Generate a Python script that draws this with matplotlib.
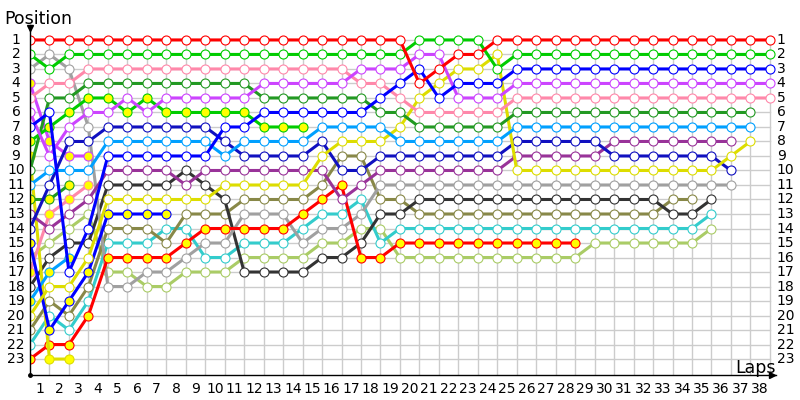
import matplotlib
matplotlib.use('Agg')
import matplotlib.pyplot as plt

# lap chart: position of each car per lap (index = lap, lap 0 = grid)
laps_total = 38
red = [1,1,1,1,1,1,1,1,1,1,1,1,1,1,1,1,1,1,1,1,4,3,2,2,1,1,1,1,1,1,1,1,1,1,1,1,1,1,1]
lime = [2,3,2,2,2,2,2,2,2,2,2,2,2,2,2,2,2,2,2,2,1,1,1,1,3,2,2,2,2,2,2,2,2,2,2,2,2,2,2]
blue = [7,6,17,14,9,9,9,9,9,9,7,7,6,6,6,6,6,6,5,4,3,5,4,4,4,3,3,3,3,3,3,3,3,3,3,3,3,3,3]
magenta = [6,9,7,6,6,5,6,5,5,5,5,5,4,4,4,4,4,3,3,3,2,2,5,5,5,4,4,4,4,4,4,4,4,4,4,4,4,4,4]
pink = [5,4,4,3,3,3,3,3,3,3,3,3,3,3,3,3,3,4,4,5,6,6,6,6,6,5,5,5,5,5,5,5,5,5,5,5,5,5,5]
darkgreen = [10,5,5,4,4,4,4,4,4,4,4,4,5,5,5,5,5,5,6,6,7,7,7,7,7,6,6,6,6,6,6,6,6,6,6,6,6,6]
skyblue = [11,10,10,10,8,8,8,8,8,8,9,8,8,8,8,7,7,7,7,8,8,8,8,8,8,7,7,7,7,7,7,7,7,7,7,7,7,7]
yellow = [20,18,18,16,12,12,12,12,12,12,11,11,11,11,11,9,8,8,8,7,5,4,3,3,2,10,10,10,10,10,10,10,10,10,10,10,9,8]
purple = [13,14,13,12,10,10,10,10,11,10,10,10,10,10,10,10,12,11,10,10,10,10,10,10,10,9,9,9,9,9,8,8,8,8,8,8,8]
darkblue = [14,11,8,8,7,7,7,7,7,7,8,9,9,9,9,8,10,10,9,9,9,9,9,9,9,8,8,8,8,8,9,9,9,9,9,9,10]
gray = [3,2,3,7,18,18,17,17,16,15,15,13,13,13,15,14,14,13,11,11,11,11,11,11,11,11,11,11,11,11,11,11,11,11,11,11,11]
darkgray = [18,16,15,15,11,11,11,11,10,11,12,17,17,17,17,16,16,15,13,13,12,12,12,12,12,12,12,12,12,12,12,12,12,13,13,12]
olive = [21,19,20,18,14,14,14,15,13,13,13,12,12,12,12,11,9,9,12,12,13,13,13,13,13,13,13,13,13,13,13,13,13,12,12]
teal = [22,20,21,19,15,15,15,14,14,16,16,15,15,15,14,13,13,12,15,14,14,14,14,14,14,14,14,14,14,14,14,14,14,14,14,13]
lightgreen = [16,15,14,13,17,17,18,18,17,17,17,16,16,16,16,15,15,14,14,16,16,16,16,16,16,16,16,16,16,15,15,15,15,15,15,14]
# second cars of the teams (yellow filled markers)
red2 = [23,22,22,20,16,16,16,16,15,14,14,14,14,14,13,12,11,16,16,15,15,15,15,15,15,15,15,15,15]
lime2 = [8,7,6,5,5,6,5,6,6,6,6,6,7,7,7]
blue2 = [15,21,19,17,13,13,13,13]
magenta2 = [4,8,9,9]
pink2 = [17,13,12,11]
darkgreen2 = [12,12,11]
skyblue2 = [19,17,16]
yellow2 = [9,23,23]

cars = [
    (lightgreen, '#aacc66', 'white'),
    (teal, '#33cccc', 'white'),
    (olive, '#888848', 'white'),
    (darkgray, '#333333', 'white'),
    (gray, '#a0a0a0', 'white'),
    (red2, '#ff0000', '#ffff00'),
    (yellow2, '#dddd00', '#ffff00'),
    (skyblue2, '#00a0ff', '#ffff00'),
    (darkgreen2, '#229922', '#ffff00'),
    (pink2, '#ff88aa', '#ffff00'),
    (magenta2, '#cc44ff', '#ffff00'),
    (blue2, '#0000ff', '#ffff00'),
    (purple, '#993399', 'white'),
    (darkblue, '#1010c0', 'white'),
    (yellow, '#dddd00', 'white'),
    (skyblue, '#00a0ff', 'white'),
    (darkgreen, '#229922', 'white'),
    (lime2, '#00cc00', '#ffff00'),
    (pink, '#ff88aa', 'white'),
    (magenta, '#cc44ff', 'white'),
    (blue, '#0000ff', 'white'),
    (lime, '#00cc00', 'white'),
    (red, '#ff0000', 'white'),
]

fig = plt.figure(figsize=(8, 4), dpi=100)
ax = fig.add_axes([30/800, 25/400, 745.7/800, 350/400])
ax.set_xlim(0, 38.3)
ax.set_ylim(24.1, -0.03)

# grid
for p in range(1, 24):
    ax.plot([0, laps_total], [p, p], color='#cccccc', lw=1, zorder=0)
for l in range(1, laps_total + 1):
    ax.plot([l, l], [0.8, 24.1], color='#cccccc', lw=1, zorder=0)

for pos, col, fill in cars:
    ax.plot(range(len(pos)), pos, color=col, lw=2.2, marker='o', ms=6.5,
            mfc=fill, mec=col, mew=0.8, zorder=2)

for s in ['top', 'right']:
    ax.spines[s].set_visible(False)
for s in ['left', 'bottom']:
    ax.spines[s].set_color('black')
    ax.spines[s].set_linewidth(1)
ax.set_xticks([])
ax.set_yticks([])

# arrows / origin dot
ax.plot(0, 0.15, marker='v', color='black', ms=5, clip_on=False, zorder=5)
ax.plot(38.1, 24.1, marker='>', color='black', ms=5, clip_on=False, zorder=5)
ax.plot(0, 24.1, marker='o', color='black', ms=2.5, clip_on=False, zorder=5)

for p in range(1, 24):
    ax.text(-0.72, p, str(p), ha='center', va='center', fontsize=10, clip_on=False)
    ax.text(38.35, p, str(p), ha='left', va='center', fontsize=10, clip_on=False)
for l in range(1, laps_total + 1):
    ax.text(l - 0.5, 25.05, str(l), ha='center', va='center', fontsize=10, clip_on=False)

fig.text(4/800, 1 - 24/400, 'Position', fontsize=12.5, va='baseline')
fig.text(735/800, 1 - 373/400, 'Laps', fontsize=12.5, va='baseline')

fig.savefig('out.png', dpi=100)
